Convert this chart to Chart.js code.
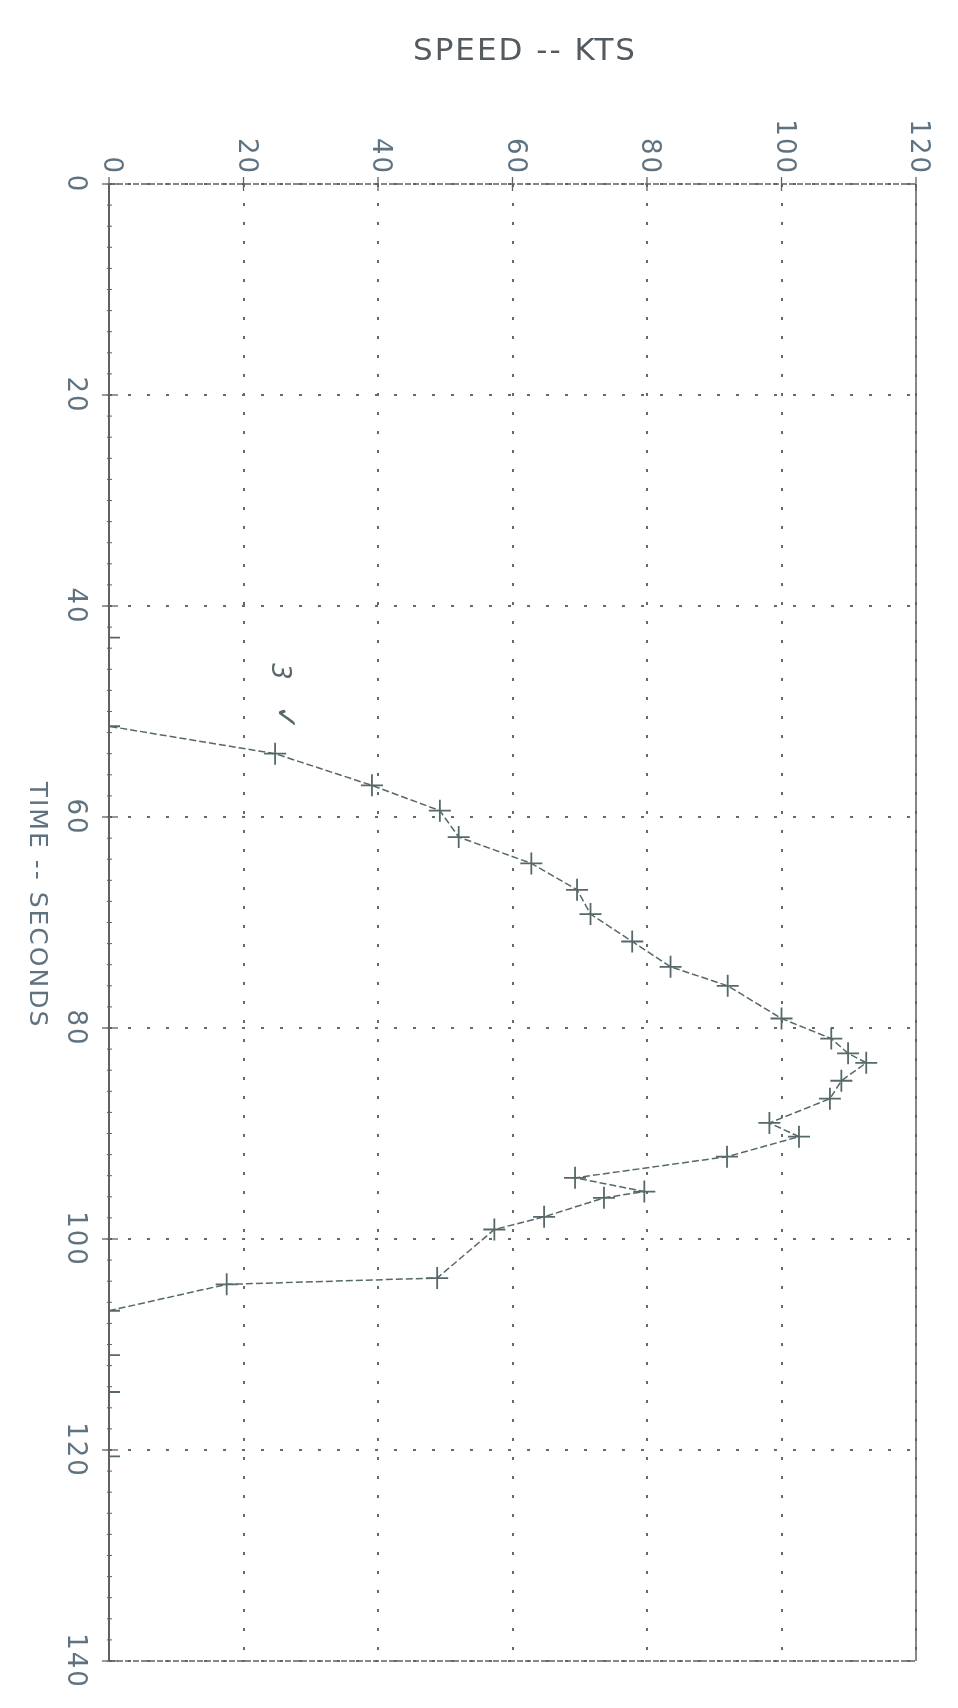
<!DOCTYPE html>
<html>
<head>
<meta charset="utf-8">
<title>Speed vs time</title>
<script src="https://cdn.jsdelivr.net/npm/chart.js@4.4.1/dist/chart.umd.min.js"></script>
<style>
  html, body { margin: 0; padding: 0; background: #ffffff; }
  #wrap { width: 958px; height: 1708px; position: relative; }
</style>
</head>
<body>
<div id="wrap"><canvas id="speedChart" width="958" height="1708"></canvas></div>
<script>
// values (time in seconds, speed in knots)
const timeSec = [43.0, 51.4, 54.0, 57.0, 59.4, 61.9, 64.4, 66.9, 69.2, 71.8, 74.2, 76.0,
  79.1, 81.0, 82.4, 83.3, 85.0, 86.7, 89.0, 90.3, 92.2, 94.2, 95.5, 96.1, 97.9, 99.1,
  103.7, 104.3, 106.8, 111.0, 114.5, 120.6];
const speedKts = [0, 0, 24.7, 39.1, 49.2, 52.0, 62.8, 69.6, 71.6, 77.8, 83.5, 92.0,
  100.0, 107.4, 109.9, 112.6, 108.9, 107.2, 98.2, 102.6, 91.9, 69.3, 79.6, 73.6, 64.7, 57.3,
  48.8, 17.5, 0, 0, 0, 0];
const speedTicks = [0, 20, 40, 60, 80, 100, 120];
const timeTicks = [0, 20, 40, 60, 80, 100, 120, 140];

const inkGrey = '#5d6264';
const lineInk = '#566869';
const labelInk = '#5f7280';

// the plot is printed rotated: time runs down the page, speed to the right,
// so every label is drawn turned a quarter turn clockwise
function rotText(ctx, text, x, y, align) {
  ctx.save();
  ctx.translate(x, y);
  ctx.rotate(Math.PI / 2);
  ctx.textAlign = align;
  ctx.textBaseline = 'middle';
  ctx.fillText(text, 0, 0);
  ctx.restore();
}

const plotDecor = {
  id: 'plotDecor',
  beforeDraw(chart) {
    const ctx = chart.ctx;
    ctx.save();
    ctx.fillStyle = '#ffffff';
    ctx.fillRect(0, 0, chart.width, chart.height);
    ctx.restore();
  },
  afterDraw(chart) {
    const ctx = chart.ctx;
    const a = chart.chartArea;
    const xs = chart.scales.x;
    const ys = chart.scales.y;

    // frame
    ctx.save();
    ctx.strokeStyle = inkGrey;
    ctx.lineWidth = 2;
    ctx.beginPath();
    ctx.moveTo(a.left, a.top); ctx.lineTo(a.left, a.bottom);
    ctx.stroke();
    ctx.lineWidth = 1.5;
    ctx.beginPath();
    ctx.moveTo(a.right, a.top); ctx.lineTo(a.right, a.bottom);
    ctx.stroke();
    ctx.setLineDash([6, 2]);
    ctx.beginPath();
    ctx.moveTo(a.left, a.top); ctx.lineTo(a.right, a.top);
    ctx.moveTo(a.left, a.bottom); ctx.lineTo(a.right, a.bottom);
    ctx.stroke();
    ctx.setLineDash([]);

    // small marks along the time axis, and crosses at the grid lines
    ctx.lineWidth = 1;
    for (let t = 0; t <= 140; t += 2) {
      const y = ys.getPixelForValue(t);
      ctx.beginPath();
      ctx.moveTo(a.left - 2, y); ctx.lineTo(a.left + 3, y);
      ctx.stroke();
    }
    ctx.lineWidth = 1.3;
    timeTicks.forEach(t => {
      const y = ys.getPixelForValue(t);
      ctx.beginPath();
      ctx.moveTo(a.left - 7, y); ctx.lineTo(a.left + 9, y);
      ctx.stroke();
    });
    speedTicks.forEach(s => {
      const x = xs.getPixelForValue(s);
      ctx.beginPath();
      ctx.moveTo(x, a.top - 7); ctx.lineTo(x, a.top + 7);
      ctx.stroke();
    });
    ctx.restore();

    // tick labels
    ctx.save();
    ctx.fillStyle = labelInk;
    ctx.font = '26px "DejaVu Sans", sans-serif';
    try { ctx.letterSpacing = '2px'; } catch (_) {}
    speedTicks.forEach(s => rotText(ctx, String(s), xs.getPixelForValue(s) + 2, a.top - 9, 'right'));
    timeTicks.forEach(t => rotText(ctx, String(t), 75, ys.getPixelForValue(t), 'center'));

    // axis titles
    ctx.fillStyle = '#535b60';
    ctx.font = '31px "DejaVu Sans", sans-serif';
    ctx.textAlign = 'center';
    ctx.textBaseline = 'middle';
    ctx.fillText('SPEED -- KTS', 525, 52);
    ctx.fillStyle = labelInk;
    ctx.font = '25px "DejaVu Sans", sans-serif';
    rotText(ctx, 'TIME -- SECONDS', 36, 905, 'center');

    // curve tag next to the trace
    ctx.fillStyle = '#56676a';
    try { ctx.letterSpacing = '0px'; } catch (_) {}
    ctx.font = 'italic 26px "DejaVu Sans", sans-serif';
    rotText(ctx, '3', xs.getPixelForValue(25.3), ys.getPixelForValue(46.2), 'center');
    ctx.font = '30px "DejaVu Sans", sans-serif';
    rotText(ctx, '✓', xs.getPixelForValue(26.0), ys.getPixelForValue(50.6), 'center');
    ctx.restore();
  }
};

const points = timeSec.map((t, i) => ({ x: speedKts[i], y: t }));

new Chart(document.getElementById('speedChart'), {
  type: 'scatter',
  data: {
    datasets: [{
      label: 'speed',
      data: points,
      showLine: true,
      borderColor: lineInk,
      borderWidth: 1.5,
      borderDash: [7, 3],
      pointStyle: 'cross',
      pointRadius: 11,
      pointBorderWidth: 1.8,
      pointBorderColor: lineInk,
      pointBackgroundColor: lineInk,
      tension: 0
    }]
  },
  options: {
    responsive: false,
    animation: false,
    devicePixelRatio: 1,
    layout: { padding: { left: 109, right: 42, top: 184, bottom: 47 } },
    plugins: {
      legend: { display: false },
      tooltip: { enabled: false },
      title: { display: false }
    },
    scales: {
      x: {
        type: 'linear',
        position: 'top',
        min: 0,
        max: 120,
        ticks: { display: false, stepSize: 20 },
        grid: { color: '#656a6b', lineWidth: 2, drawTicks: false },
        border: { display: false, dash: [3, 16] }
      },
      y: {
        type: 'linear',
        position: 'left',
        reverse: true,
        min: 0,
        max: 140,
        ticks: { display: false, stepSize: 20 },
        grid: { color: '#656a6b', lineWidth: 2, drawTicks: false },
        border: { display: false, dash: [3, 16] }
      }
    }
  },
  plugins: [plotDecor]
});
</script>
</body>
</html>
